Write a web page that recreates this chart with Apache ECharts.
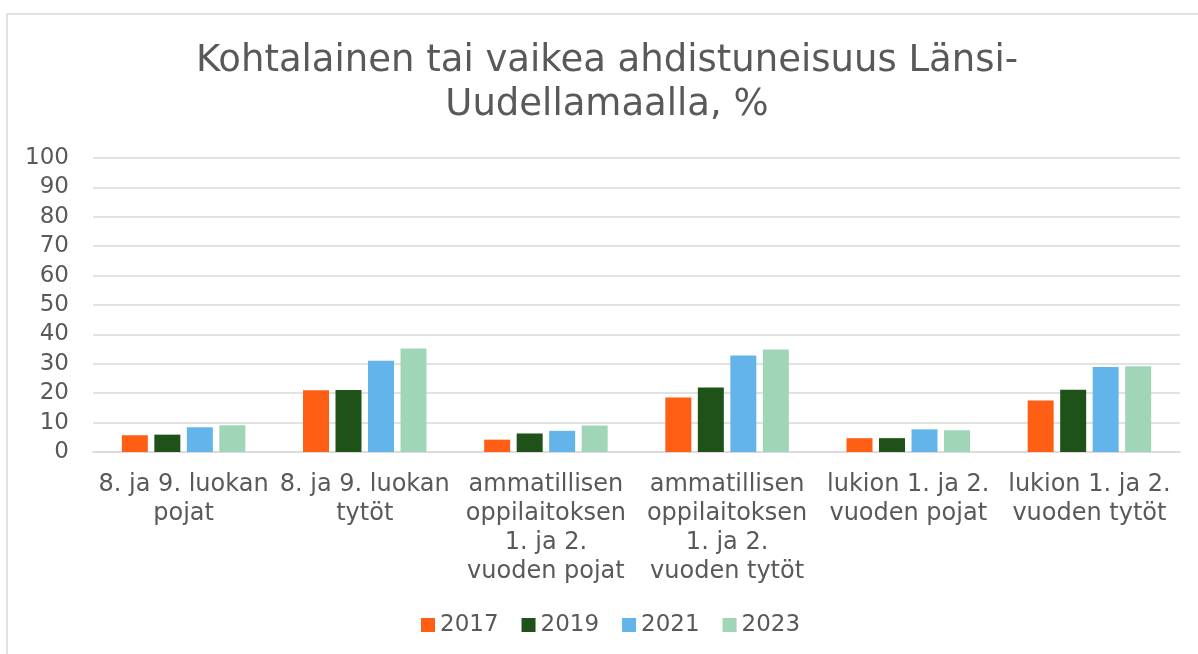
<!DOCTYPE html>
<html>
<head>
<meta charset="utf-8">
<script src="https://cdn.jsdelivr.net/npm/echarts@6/dist/echarts.min.js"></script>
<style>
  html, body { margin: 0; padding: 0; background: #fff; }
  #chart { width: 1198px; height: 654px; }
</style>
</head>
<body>
<div id="chart"></div>
<script>
  // ryhmät (x-akseli)
  var categories = [
    '8. ja 9. luokan\npojat',
    '8. ja 9. luokan\ntytöt',
    'ammatillisen\noppilaitoksen\n1. ja 2.\nvuoden pojat',
    'ammatillisen\noppilaitoksen\n1. ja 2.\nvuoden tytöt',
    'lukion 1. ja 2.\nvuoden pojat',
    'lukion 1. ja 2.\nvuoden tytöt'
  ];
  var years = ['2017', '2019', '2021', '2023'];
  var v2017 = [5.7, 21.0, 4.2, 18.5, 4.7, 17.5];
  var v2019 = [5.9, 21.1, 6.3, 21.9, 4.7, 21.2];
  var v2021 = [8.4, 31.0, 7.2, 32.8, 7.7, 28.9];
  var v2023 = [9.1, 35.2, 9.0, 34.9, 7.4, 29.2];
  var colors = ['#FF5F15', '#1E5219', '#63B4EB', '#A1D5B8'];

  var font = 'DejaVu Sans';
  var txt = '#595959';
  var values = [v2017, v2019, v2021, v2023];

  var series = years.map(function (y, i) {
    return {
      name: y,
      type: 'bar',
      data: values[i],
      barWidth: 26,
      barGap: '25%',
      itemStyle: { color: colors[i] }
    };
  });

  var myChart = echarts.init(document.getElementById('chart'));
  myChart.setOption({
    animation: false,
    color: colors,
    textStyle: { fontFamily: font },
    graphic: [{
      type: 'rect',
      shape: { x: 7, y: 14, width: 1400, height: 1000 },
      style: { fill: 'none', stroke: '#d9d9d9', lineWidth: 1.5 },
      silent: true
    }],
    title: {
      text: 'Kohtalainen tai vaikea ahdistuneisuus Länsi-\nUudellamaalla, %',
      left: 607,
      top: 39,
      padding: 0,
      textAlign: 'center',
      textStyle: {
        fontFamily: font,
        fontSize: 37,
        fontWeight: 'normal',
        color: txt,
        lineHeight: 44
      }
    },
    legend: {
      data: years,
      left: 421,
      top: 611,
      padding: 0,
      itemWidth: 14,
      itemHeight: 14,
      itemGap: 23,
      icon: 'rect',
      textStyle: { fontFamily: font, fontSize: 23, color: txt, lineHeight: 28 }
    },
    grid: {
      left: 93,
      right: 18,
      top: 158,
      bottom: 202,
      containLabel: false
    },
    xAxis: {
      type: 'category',
      data: categories,
      axisTick: { show: false },
      axisLine: { lineStyle: { color: '#d9d9d9', width: 1.5 } },
      axisLabel: {
        interval: 0,
        margin: 18,
        fontFamily: font,
        fontSize: 24,
        lineHeight: 29,
        color: txt,
        align: 'center'
      }
    },
    yAxis: {
      type: 'value',
      min: 0,
      max: 100,
      interval: 10,
      axisLine: { show: false },
      axisTick: { show: false },
      splitLine: { lineStyle: { color: '#d9d9d9', width: 1.5 } },
      axisLabel: {
        margin: 24,
        fontFamily: font,
        fontSize: 23,
        color: txt
      }
    },
    series: series
  });
</script>
</body>
</html>
